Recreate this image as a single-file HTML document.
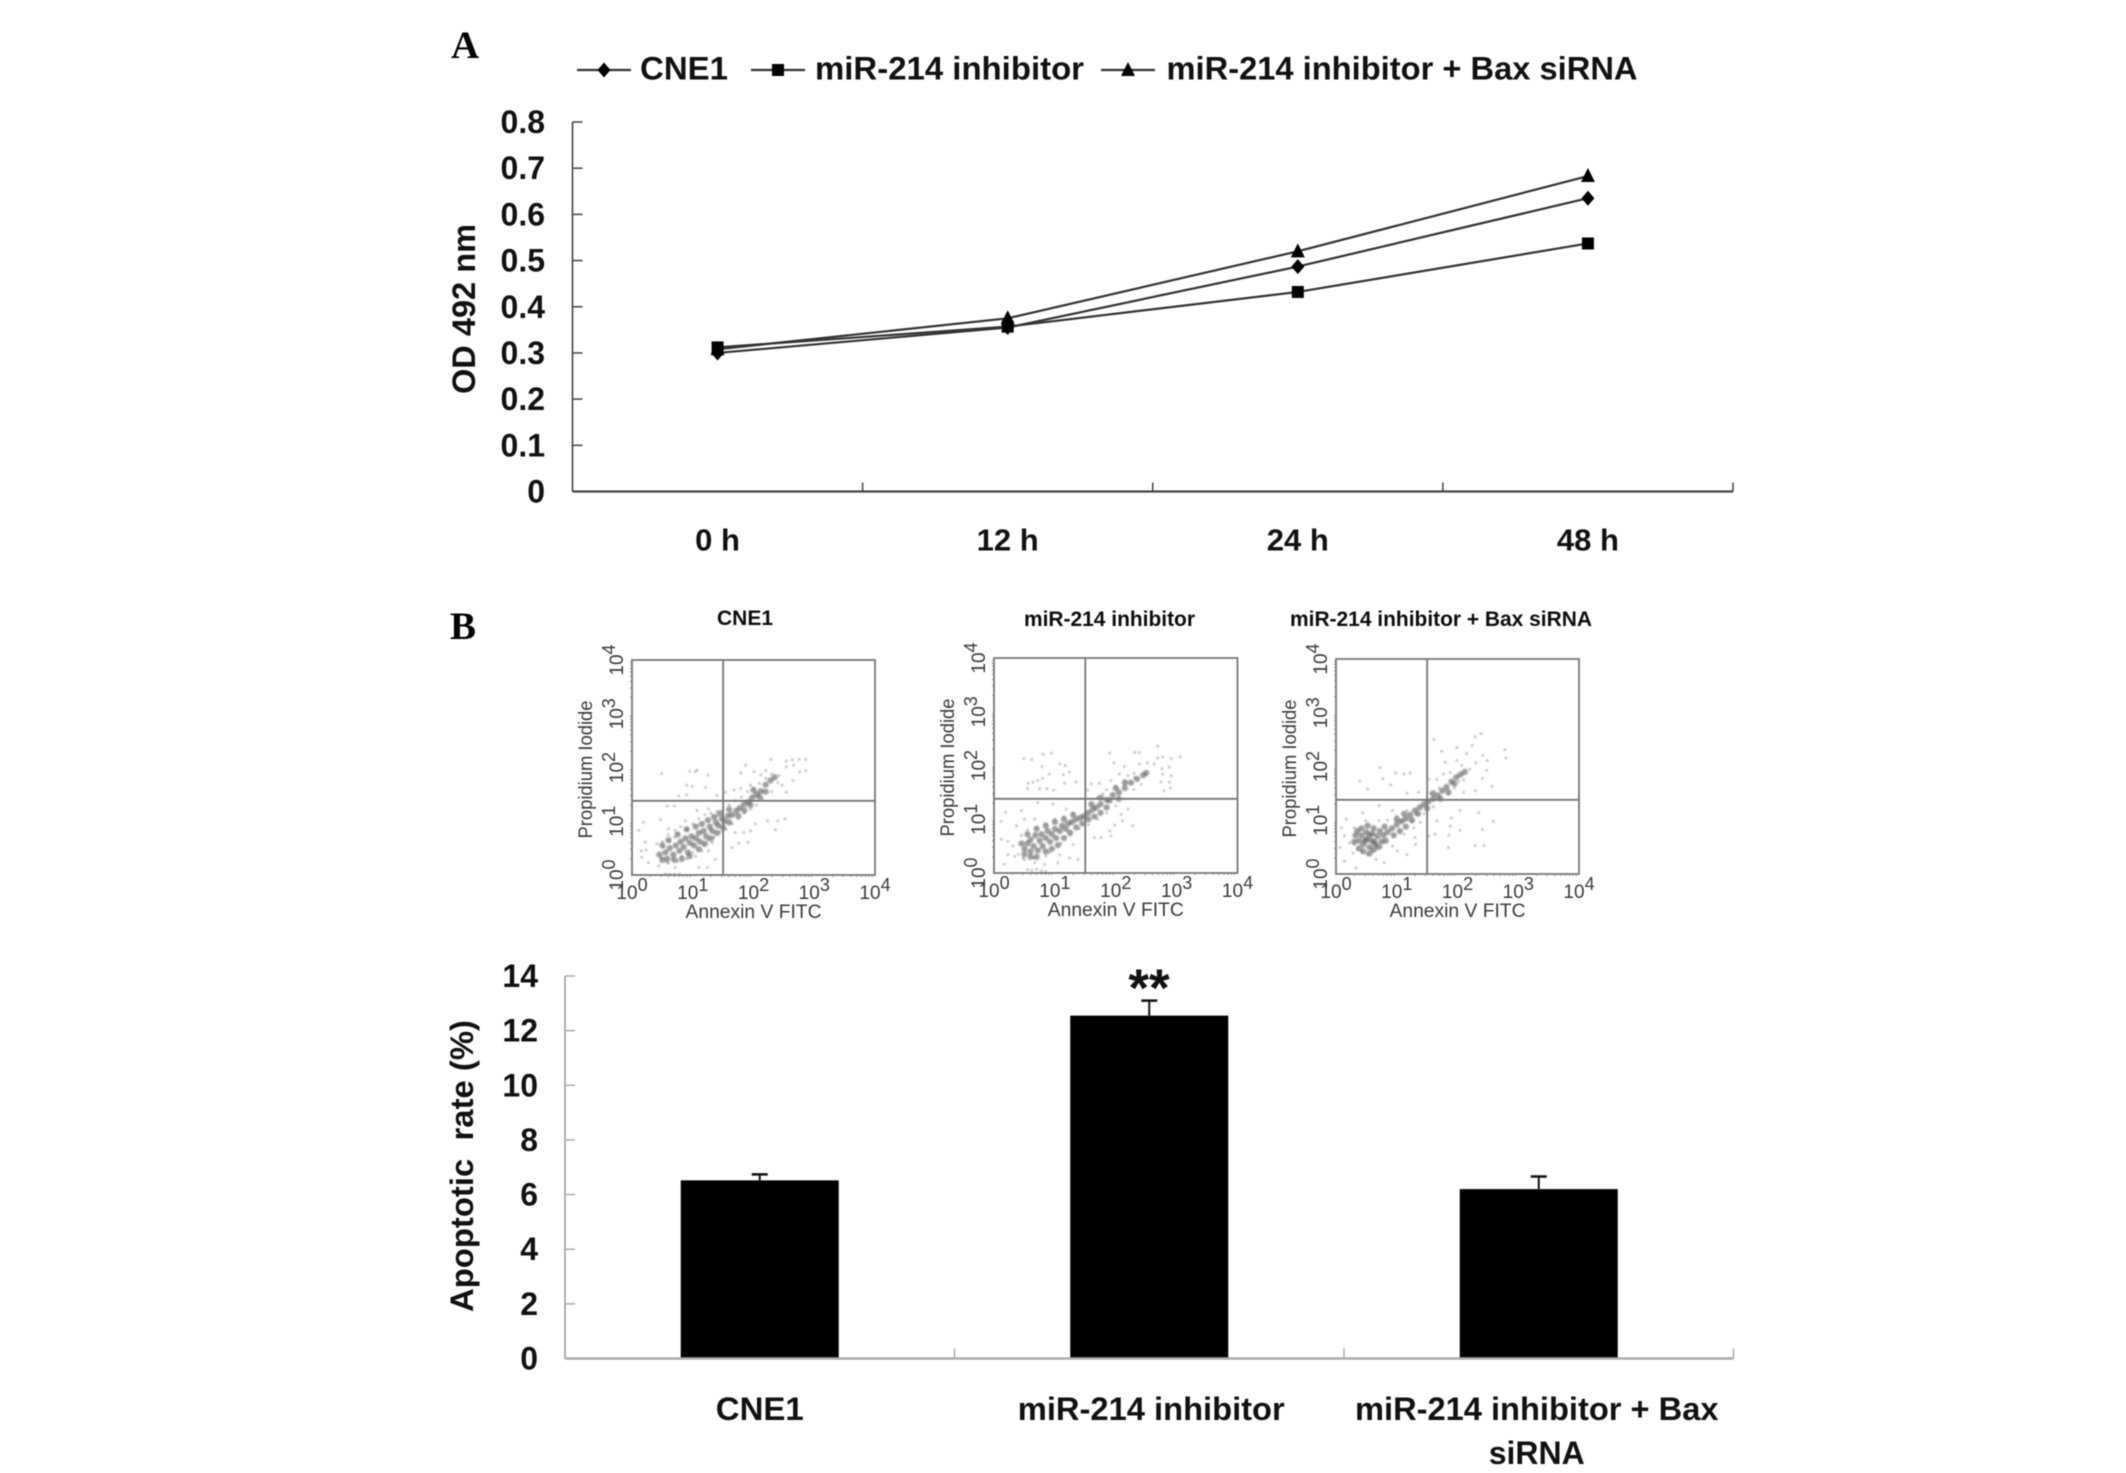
<!DOCTYPE html>
<html lang="en">
<head>
<meta charset="utf-8">
<title>OD 492 nm growth curves and apoptotic rate</title>
<style>
  html, body { margin: 0; padding: 0; background: #fff; }
  svg { display: block; filter: blur(0.4px); }
  text { font-family: "Liberation Sans", Arial, sans-serif; fill: #111; }
  .bold { font-weight: 700; }
  .letter { font-family: "Liberation Serif", serif; font-weight: 700; font-size: 39px; fill: #000; }
  .flow-text { fill: #3a3a3a; font-size: 19px; }
</style>
</head>
<body>
<svg id="figure" xmlns="http://www.w3.org/2000/svg" width="2126" height="1473" viewBox="0 0 2126 1473">
  <defs>
    <filter id="soft" x="-5%" y="-5%" width="110%" height="110%"><feGaussianBlur stdDeviation="0.7"/></filter>
    <filter id="softText" x="-5%" y="-5%" width="110%" height="110%"><feGaussianBlur stdDeviation="0.35"/></filter>
  </defs>
  <rect width="2126" height="1473" fill="#fff"/>

  <text class="letter" x="451" y="58">A</text>
  <text class="letter" x="450" y="639">B</text>

  <g id="panelA"></g>
  <text class="bold" font-size="32" textLength="170" lengthAdjust="spacingAndGlyphs" transform="translate(475,394) rotate(-90)">OD 492 nm</text>

  <g id="legend"></g>

  <text class="bold" font-size="21" x="717" y="625" textLength="56" lengthAdjust="spacingAndGlyphs" filter="url(#softText)">CNE1</text>
  <text class="bold" font-size="21" x="1024" y="626" textLength="171" lengthAdjust="spacingAndGlyphs" filter="url(#softText)">miR-214 inhibitor</text>
  <text class="bold" font-size="21" x="1290" y="626" textLength="302" lengthAdjust="spacingAndGlyphs" filter="url(#softText)">miR-214 inhibitor + Bax siRNA</text>

  <g id="flow1"></g>
  <g id="flow2"></g>
  <g id="flow3"></g>

  <g id="panelB"></g>
  <text class="bold" font-size="32" textLength="292" lengthAdjust="spacingAndGlyphs" xml:space="preserve" transform="translate(473,1312) rotate(-90)">Apoptotic  rate (%)</text>
  <text class="bold" font-size="53" text-anchor="middle" x="1149" y="1006" fill="#000">**</text>
</svg>

<script>
/* ---------- Panel A data ---------- */
const timeLabels = ['0 h', '12 h', '24 h', '48 h'];
const odTicks = [0, 0.1, 0.2, 0.3, 0.4, 0.5, 0.6, 0.7, 0.8];
const odTickLabels = ['0', '0.1', '0.2', '0.3', '0.4', '0.5', '0.6', '0.7', '0.8'];
const cne1Od = [0.300, 0.355, 0.487, 0.635];
const inhibitorOd = [0.312, 0.357, 0.432, 0.537];
const inhibitorBaxOd = [0.308, 0.375, 0.520, 0.683];

/* ---------- Panel B bar data ---------- */
const barGroups = ['CNE1', 'miR-214 inhibitor', 'miR-214 inhibitor + Bax siRNA'];
const apoptoticRate = [6.52, 12.55, 6.2];
const apoptoticError = [0.22, 0.55, 0.46];
const rateTicks = [0, 2, 4, 6, 8, 10, 12, 14];

/* ---------- Flow cytometry data (log10 decades: Annexin V, Propidium Iodide) ---------- */
const flowDecades = [0, 1, 2, 3, 4];
const flowGates = [[1.5, 1.38], [1.5, 1.38], [1.5, 1.38]];

const cne1Core = [[.55,.42],[.62,.5],[.68,.38],[.72,.55],[.78,.45],[.8,.62],[.85,.52],[.88,.68],[.92,.42],[.95,.6],[.98,.72],[1.02,.55],[1.05,.68],[1.1,.78],[1.12,.62],[1.18,.82],[1.22,.72],[1.28,.9],[1.32,.82],[1.38,.98],[1.42,.92],[1.48,1.05],[1.52,1],[1.58,1.1],[1.65,1.12],[1.72,1.2],[1.78,1.25],[1.85,1.32],[1.92,1.36],[1.98,1.44],[2.05,1.5],[2.12,1.56],[2.2,1.68],[2.28,1.76],[2.35,1.82],[.45,.38],[.5,.28],[.58,.3],[.7,.28],[.82,.3],[.95,.35],[.5,.55],[.6,.65],[.75,.75],[.9,.85],[1.05,.9],[1.15,.95],[1.25,1.02],[1.1,.48],[1.2,.58],[1.3,.68],[1.4,.78],[1.5,.88],[1.6,.98],[1.35,1.08],[1.45,1.15],[1.6,1.22],[1.75,1.1],[1.85,1.2],[1.95,1.3],[2.1,1.45],[2.2,1.55],[2,1.58]];
const cne1Sparse = [[.49,1.89],[.95,1.93],[1.04,1.92],[1.07,1.95],[1.25,1.86],[.9,1.67],[.99,1.65],[1.21,1.63],[.77,1.47],[.9,1.49],[.58,1.28],[.7,1.28],[2.29,2.15],[2.54,2.12],[2.64,2.14],[2.75,2.15],[2.86,2.15],[2.54,2.01],[2.66,2.04],[2.76,1.92],[2.86,1.94],[2.65,1.76],[2.47,1.67],[2.54,1.54],[1.79,1.9],[1.87,2.04],[2.01,1.92],[2.2,1.94],[2.12,1.86],[1.68,1.58],[1.54,1.54],[1.79,1.61],[1.95,1.67],[1.4,1.48],[2.23,1.01],[2.4,1.01],[2.52,1.04],[2.36,.84],[2.03,.95],[1.95,.82],[1.84,.79],[1.7,.79],[1.91,.61],[1.76,.59],[1.65,.51],[.19,.98],[.47,1.03],[.11,.83],[.22,.61],[.15,.45],[.23,.46],[.41,.58],[.16,.33],[.27,.23],[.44,.17],[.58,.23],[.71,.14],[1.1,.14],[1.24,.14],[1.37,.29],[1.26,.45],[.71,.83],[.88,1.01],[1.07,1.2],[1.26,1.23],[.6,.86],[.55,.02],[.62,.02],[.7,.02],[.78,.02],[.5,.62],[.6,.75],[.7,.7],[.8,.9],[.9,.85],[1,.95],[1.1,1.05],[1.2,1.12],[1.3,1.15],[1.4,1.18],[1.15,.45],[1.05,.35],[.9,.3],[.75,.25],[.6,.22],[1.25,.65],[1.35,.7],[1.45,.8],[1.55,.85],[1.65,.95],[1.75,1.05],[1.85,1.15],[1.95,1.22],[2.05,1.3],[2.15,1.42],[2.3,1.55],[1.6,1.3],[1.7,1.38],[1.8,1.45],[1.9,1.55],[2,1.62],[2.1,1.7],[2.2,1.8],[2.3,1.88],[2.42,1.85],[2.4,1.72],[1.5,1.2],[1.4,1.1],[.48,.32],[.52,.52],[.66,.3],[.82,.35],[1,.42],[1.18,.55],[1.32,.6],[.62,.62],[.75,.78]];

const inhibitorCore = [[.5,.45],[.55,.55],[.6,.4],[.6,.62],[.65,.5],[.68,.7],[.72,.42],[.75,.6],[.78,.72],[.8,.5],[.85,.65],[.88,.78],[.92,.58],[.95,.72],[1,.82],[1.02,.65],[1.08,.78],[1.12,.88],[1.18,.82],[1.22,.92],[1.28,.95],[1.35,1],[1.42,1.03],[1.48,1.06],[1.55,1.12],[1.62,1.18],[1.68,1.22],[1.75,1.28],[1.85,1.36],[1.95,1.45],[2.05,1.5],[2.15,1.58],[2.25,1.68],[2.35,1.75],[2.45,1.82],[2.5,1.86],[.45,.55],[.5,.35],[.6,.3],[.7,.3],[.85,.4],[.95,.45],[1.05,.52],[1.15,.65],[1.25,.75],[1.35,.85],[1.45,.92],[.55,.72],[.7,.82],[.85,.88],[1,.95],[1.15,1],[1.3,1.08],[1.55,1],[1.65,1.05],[1.75,1.12],[1.85,1.22],[1.6,1.28],[1.75,1.4],[1.9,1.35],[2.05,1.38],[2,1.58],[2.15,1.68]];
const inhibitorSparse = [[.49,2.13],[.62,2.11],[.81,2.21],[.94,2.23],[.79,1.98],[1.08,2.03],[1.17,2],[.91,1.84],[1.14,1.83],[1.24,1.88],[.8,1.76],[.72,1.72],[.64,1.69],[.56,1.67],[.55,1.57],[.75,1.57],[.87,1.57],[.98,1.54],[1.16,1.67],[1.35,1.69],[2.69,2.36],[1.9,2.23],[2.31,2.24],[2.39,2.24],[2.77,2.16],[2.69,2.14],[2.91,2.13],[3.06,2.16],[1.97,2.05],[2.14,1.98],[2.39,2.03],[2.52,2.05],[2.63,2.03],[2.76,1.94],[2.88,1.97],[2.77,1.84],[2.91,1.81],[2.74,1.69],[2.88,1.69],[2.9,1.58],[2.79,1.53],[2.06,1.84],[1.79,1.47],[1.6,1.66],[1.92,1.72],[1.54,1.54],[1.73,1.67],[2.2,1.81],[2.31,1.78],[2.11,.97],[2.28,.88],[1.98,.89],[1.9,.78],[1.92,.69],[1.65,.66],[1.76,.66],[2.2,1.19],[2.09,1.09],[.12,.96],[.19,1.13],[.45,1.16],[.5,1],[.67,1],[.37,.88],[.72,1.31],[.97,1.28],[1.19,1.19],[.12,.63],[.23,.59],[.31,.5],[.23,.34],[.34,.31],[.17,.16],[.5,.25],[.67,.19],[.83,.16],[1.05,.19],[1.24,.28],[1.38,.25],[1.3,.53],[1.08,.34],[.91,.38],[.55,.06],[.62,.05],[.7,.07],[.78,.04],[.85,.03],[.45,.7],[.55,.8],[.7,.85],[.85,.92],[1,1],[1.15,1.05],[1.3,1.12],[1.1,.55],[1.25,.7],[1.4,.82],[1.55,.9],[1.7,1],[1.85,1.12],[2,1.25],[1.7,1.4],[1.85,1.55],[2,1.62],[2.15,1.72],[2.3,1.85],[2.15,1.38],[2.3,1.55],[2.42,1.65],[.4,.35],[.48,.28],[.85,.32],[.65,.28]];

const inhibitorBaxCore = [[.38,.62],[.42,.72],[.45,.55],[.5,.65],[.5,.78],[.55,.5],[.58,.62],[.6,.75],[.62,.85],[.65,.55],[.68,.7],[.72,.8],[.78,.72],[.85,.78],[.92,.85],[1,.92],[1.08,.98],[1.15,1.03],[1.22,1.1],[1.3,1.18],[1.38,1.24],[1.45,1.3],[1.52,1.35],[1.6,1.4],[1.68,1.46],[1.75,1.55],[1.82,1.62],[1.9,1.72],[1.98,1.8],[2.05,1.85],[2.12,1.9],[.3,.6],[.32,.72],[.35,.8],[.38,.48],[.42,.85],[.45,.42],[.52,.9],[.55,.38],[.62,.45],[.7,.5],[.75,.6],[.8,.88],[.82,.62],[.95,.72],[1.05,.8],[1.15,.88],[1,1.02],[1.12,1.12],[1.25,1],[1.35,1.12],[1.5,1.22],[1.6,1.5],[1.72,1.4],[1.85,1.52],[1.95,1.68],[.48,.62],[.55,.72],[.63,.6]];
const inhibitorBaxSparse = [[1.61,2.5],[2.39,2.61],[2.29,2.55],[2.24,2.39],[1.99,2.35],[1.74,2.28],[2.15,2.24],[2.42,2.21],[2.49,2.11],[2.3,2.07],[2.78,2.31],[2.8,2.16],[1.8,2.08],[1.99,2.11],[2.07,2.02],[2.48,1.93],[2.41,1.78],[2.57,1.63],[2.29,1.55],[2.1,1.52],[1.66,1.76],[1.53,1.76],[1.77,1.86],[1.88,1.89],[.72,1.98],[.98,1.88],[1.12,1.86],[1.22,1.88],[.39,1.73],[.77,1.77],[.9,1.66],[.52,1.58],[1.17,1.5],[1.36,1.52],[2.59,.98],[2.35,1.14],[2.04,1.18],[2.04,.81],[2.41,.83],[1.88,.89],[1.9,1.04],[1.63,.74],[1.86,.72],[1.85,.49],[2.29,.53],[2.44,.53],[1.66,.99],[1.53,.71],[.09,.86],[.17,1.02],[.44,1.14],[.71,1.27],[.93,1.18],[.14,.71],[.22,.58],[.07,.49],[.28,.39],[.14,.24],[.33,.11],[.52,.36],[.66,.27],[.79,.21],[1.01,.43],[1.17,.36],[1.31,.55],[1.3,.68],[.93,.52],[1.12,.74],[1.28,.86],[1.07,.99],[1.17,1.18],[1.31,1.11],[1.39,.96],[.71,.99],[.49,.99],[.3,.86],[.85,1],[1,1.08],[1.25,.98],[1.45,1.12],[1.6,1.25],[1.55,1.5],[1.7,1.6],[1.85,1.48],[1.95,1.6],[2.02,1.72],[2.1,1.75],[2.2,1.95],[.3,.55],[.35,.45],[.42,.42],[.6,.42],[.75,.5]];

/* ---------- helpers ---------- */
const NS = 'http://www.w3.org/2000/svg';
function make(parent, tag, attrs, text) {
  const node = document.createElementNS(NS, tag);
  for (const key in attrs) node.setAttribute(key, attrs[key]);
  if (text !== undefined) node.textContent = text;
  parent.appendChild(node);
  return node;
}

/* ---------- Panel A: line chart ---------- */
(function () {
  const g = document.getElementById('panelA');
  const left = 572.5, right = 1733, y0 = 491.5, yTop = 122, odMax = 0.8;
  const catW = (right - left) / timeLabels.length;
  const xAt = i => left + catW * (i + 0.5);
  const yAt = v => y0 - (v / odMax) * (y0 - yTop);
  const axisColor = '#444';

  const yAxis = make(g, 'line', { x1: left, x2: left, y1: yAt(odMax), y2: y0, stroke: axisColor, 'stroke-width': 1.6 });
  
  
  const xAxis = make(g, 'line', { x1: left, x2: right, y1: y0, y2: y0, stroke: axisColor, 'stroke-width': 2.2 });
  
  

  odTicks.forEach((t, i) => {
    const tick = make(g, 'line', { x1: left, x2: left + 10, y1: yAt(t), y2: yAt(t), stroke: axisColor, 'stroke-width': 1.5 });
    
    
    const label = make(g, 'text', { x: 545, y: yAt(t) + 11, 'text-anchor': 'end', 'font-size': 32, 'font-weight': 700 }, odTickLabels[i]);
    
    
  });

  timeLabels.forEach((name, i) => {
    const tick = make(g, 'line', { x1: left + catW * (i + 1), x2: left + catW * (i + 1), y1: y0, y2: y0 - 9, stroke: axisColor, 'stroke-width': 1.5 });
    
    
    const label = make(g, 'text', { x: xAt(i), y: 550.5, 'text-anchor': 'middle', 'font-size': 31, 'font-weight': 700 }, name);
    
    
  });

  function drawMarker(parent, shape, x, y) {
    if (shape === 'diamond') return make(parent, 'polygon', { points: `${x},${y - 7.5} ${x + 6.5},${y} ${x},${y + 7.5} ${x - 6.5},${y}`, fill: '#000' });
    if (shape === 'square') return make(parent, 'rect', { x: x - 6, y: y - 6, width: 12, height: 12, fill: '#000' });
    return make(parent, 'polygon', { points: `${x},${y - 8} ${x + 7},${y + 6} ${x - 7},${y + 6}`, fill: '#000' });
  }

  function drawSeries(values, shape) {
    const pts = values.map((v, i) => `${xAt(i)},${yAt(v)}`).join(' ');
    const line = make(g, 'polyline', { points: pts, fill: 'none', stroke: '#333', 'stroke-width': 2.2 });
    
    
    values.forEach((v, i) => {
      const marker = drawMarker(g, shape, xAt(i), yAt(v));
      
      
    });
  }
  drawSeries(inhibitorBaxOd, 'triangle');
  drawSeries(cne1Od, 'diamond');
  drawSeries(inhibitorOd, 'square');

  /* legend */
  const lg = document.getElementById('legend');
  const entries = [
    { name: 'CNE1', shape: 'diamond', lineX: 577, textX: 640, width: 88 },
    { name: 'miR-214 inhibitor', shape: 'square', lineX: 751, textX: 815, width: 269 },
    { name: 'miR-214 inhibitor + Bax siRNA', shape: 'triangle', lineX: 1101, textX: 1166.5, width: 471 }
  ];
  entries.forEach(e => {
    const keyLine = make(lg, 'line', { x1: e.lineX, x2: e.lineX + 54, y1: 70, y2: 70, stroke: '#333', 'stroke-width': 2.2 });
    
    
    const keyMark = drawMarker(lg, e.shape, e.lineX + 27, 70);
    
    
    const keyText = make(lg, 'text', { x: e.textX, y: 79.5, 'font-size': 32, 'font-weight': 700, textLength: e.width, lengthAdjust: 'spacingAndGlyphs' }, e.name);
    
    
  });
})();

/* ---------- Flow cytometry plots ---------- */
function drawFlow(id, left, right, top, bottom, gate, core, sparse) {
  const g = document.getElementById(id);
  const xAt = d => left + (d / 4) * (right - left);
  const yAt = d => bottom - (d / 4) * (bottom - top);

  const dots = make(g, 'g', { filter: 'url(#soft)' });
  
  
  sparse.forEach(p => {
    const dot = make(dots, 'circle', { cx: xAt(p[0]), cy: yAt(p[1]), r: 1.2, fill: '#777', opacity: 0.65 });
    
    
  });
  core.forEach(p => {
    const dot = make(dots, 'circle', { cx: xAt(p[0]), cy: yAt(p[1]), r: 3.1, fill: '#5a5a5a', opacity: 0.6 });
    
    
  });

  const frameColor = '#777';
  const frame = make(g, 'rect', { x: left, y: top, width: right - left, height: bottom - top, fill: 'none', stroke: frameColor, 'stroke-width': 1.8 });
  
  
  const vGate = make(g, 'line', { x1: xAt(gate[0]), x2: xAt(gate[0]), y1: top, y2: bottom, stroke: frameColor, 'stroke-width': 1.8 });
  
  
  const hGate = make(g, 'line', { x1: left, x2: right, y1: yAt(gate[1]), y2: yAt(gate[1]), stroke: frameColor, 'stroke-width': 1.8 });
  
  

  const labels = make(g, 'g', { filter: 'url(#softText)' });
  
  

  flowDecades.forEach(d => {
    const xl = make(labels, 'text', { x: xAt(d), y: bottom + 24, 'text-anchor': 'middle', class: 'flow-text' });
    
    
    make(xl, 'tspan', {}, '10');
    make(xl, 'tspan', { dy: -8, 'font-size': 18 }, String(d));

    const yl = make(labels, 'text', { transform: `translate(${left - 9},${yAt(d)}) rotate(-90)`, 'text-anchor': 'middle', class: 'flow-text' });
    
    
    make(yl, 'tspan', {}, '10');
    make(yl, 'tspan', { dy: -8, 'font-size': 18 }, String(d));

    if (d < 4) {
      [2, 3, 4, 5, 6, 7, 8, 9].forEach(m => {
        const frac = Math.log10(m);
        const mx = make(g, 'line', { x1: xAt(d + frac), x2: xAt(d + frac), y1: bottom, y2: bottom + 2, stroke: '#888', 'stroke-width': 1 });
        
        
        const my = make(g, 'line', { x1: left - 2, x2: left, y1: yAt(d + frac), y2: yAt(d + frac), stroke: '#888', 'stroke-width': 1 });
        
        
      });
    }
  });

  const xTitle = make(labels, 'text', { x: (left + right) / 2, y: bottom + 43, 'text-anchor': 'middle', class: 'flow-text', textLength: 136, lengthAdjust: 'spacingAndGlyphs' }, 'Annexin V FITC');
  
  
  const yTitle = make(labels, 'text', { transform: `translate(${left - 40},${(top + bottom) / 2 + 2}) rotate(-90)`, 'text-anchor': 'middle', class: 'flow-text', textLength: 138, lengthAdjust: 'spacingAndGlyphs' }, 'Propidium Iodide');
  
  
}
drawFlow('flow1', 632, 875, 660, 875, flowGates[0], cne1Core, cne1Sparse);
drawFlow('flow2', 994, 1237.5, 658, 873, flowGates[1], inhibitorCore, inhibitorSparse);
drawFlow('flow3', 1336, 1579, 659, 874, flowGates[2], inhibitorBaxCore, inhibitorBaxSparse);

/* ---------- Panel B: bar chart ---------- */
(function () {
  const g = document.getElementById('panelB');
  const left = 565, right = 1733.5, y0 = 1358.5, yTop = 976, rateMax = 14;
  const catW = (right - left) / barGroups.length;
  const barW = 158;
  const xAt = i => left + catW * (i + 0.5);
  const yAt = v => y0 - (v / rateMax) * (y0 - yTop);

  const yAxis = make(g, 'line', { x1: left, x2: left, y1: yTop, y2: y0, stroke: '#999', 'stroke-width': 1.5 });
  
  

  rateTicks.forEach(t => {
    const tick = make(g, 'line', { x1: left, x2: left + 10, y1: yAt(t), y2: yAt(t), stroke: '#aaa', 'stroke-width': 1.5 });
    
    
    const label = make(g, 'text', { x: 538, y: yAt(t) + 11, 'text-anchor': 'end', 'font-size': 32, 'font-weight': 700 }, String(t));
    
    
  });

  barGroups.forEach((name, i) => {
    const tick = make(g, 'line', { x1: left + catW * (i + 1), x2: left + catW * (i + 1), y1: y0, y2: y0 - 10, stroke: '#999', 'stroke-width': 1.2 });
    
    
  });

  apoptoticRate.forEach((v, i) => {
    const errX = xAt(i);
    const errLine = make(g, 'line', { x1: errX, x2: errX, y1: yAt(v), y2: yAt(v + apoptoticError[i]), stroke: '#111', 'stroke-width': 2 });
    
    
    const errCap = make(g, 'line', { x1: errX - 8, x2: errX + 8, y1: yAt(v + apoptoticError[i]), y2: yAt(v + apoptoticError[i]), stroke: '#111', 'stroke-width': 2.5 });
    
    
    const bar = make(g, 'rect', { x: xAt(i) - barW / 2, y: yAt(v), width: barW, height: y0 - yAt(v), fill: '#000' });
    
    
  });

  const xAxis = make(g, 'line', { x1: left, x2: right, y1: y0, y2: y0, stroke: '#aaa', 'stroke-width': 2.5 });
  
  

  /* category labels; the last one wraps onto two lines as in the figure */
  const l0 = make(g, 'text', { x: xAt(0), y: 1420, 'text-anchor': 'middle', 'font-size': 32, 'font-weight': 700, textLength: 88, lengthAdjust: 'spacingAndGlyphs' }, barGroups[0]);
  
  
  const l1 = make(g, 'text', { x: xAt(1) + 2, y: 1420, 'text-anchor': 'middle', 'font-size': 32, 'font-weight': 700, textLength: 267, lengthAdjust: 'spacingAndGlyphs' }, barGroups[1]);
  
  
  const words = barGroups[2].split(' ');
  const l2a = make(g, 'text', { x: xAt(2) - 2, y: 1420, 'text-anchor': 'middle', 'font-size': 32, 'font-weight': 700, textLength: 363.5, lengthAdjust: 'spacingAndGlyphs' }, words.slice(0, -1).join(' '));
  
  
  const l2b = make(g, 'text', { x: xAt(2) - 2, y: 1464, 'text-anchor': 'middle', 'font-size': 32, 'font-weight': 700 }, words[words.length - 1]);
  
  
})();
</script>
</body>
</html>
